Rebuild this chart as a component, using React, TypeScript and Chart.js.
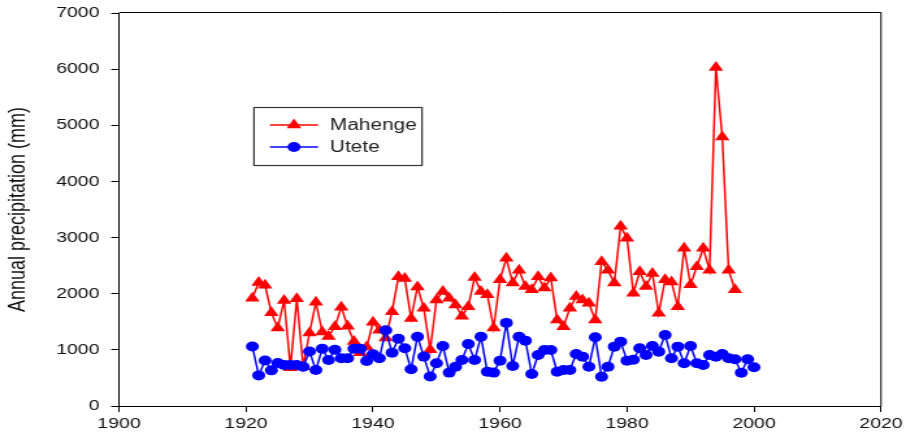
import React, { useEffect, useRef } from 'react';
import { Chart, registerables } from 'chart.js';

Chart.register(...registerables);

// The reference picture is stretched horizontally; draw on a narrower canvas and stretch it.
const OUT_W = 906;
const H = 441;
const W = 697;
const STRETCH = OUT_W / W;
const sx = (v: number) => v / STRETCH;

const mahengeStart = 1921;
const mahengeValues = [
  1920, 2200, 2150, 1660, 1390, 1880, 680, 1910, 700, 1300,
  1850, 1320, 1240, 1410, 1760, 1420, 1150, 950, 1050, 1490,
  1350, 1210, 1680, 2300, 2270, 1560, 2120, 1740, 1000, 1890,
  2040, 1920, 1800, 1600, 1770, 2290, 2040, 1980, 1390, 2250,
  2630, 2190, 2420, 2130, 2070, 2300, 2100, 2280, 1530, 1410,
  1740, 1950, 1890, 1830, 1530, 2570, 2420, 2190, 3200, 2990,
  2010, 2390, 2130, 2360, 1650, 2250, 2210, 1770, 2810, 2160,
  2480, 2810, 2420, 6030, 4790, 2420, 2070,
];

const uteteStart = 1921;
const uteteValues = [
  1060, 545, 810, 635, 765, 730, 730, 730, 700, 970,
  640, 1020, 820, 1000, 850, 850, 1020, 1020, 800, 920,
  850, 1350, 950, 1200, 1030, 655, 1235, 880, 525, 760,
  1070, 595, 700, 820, 1105, 820, 1235, 610, 595, 808,
  1480, 713, 1235, 1164, 570, 909, 998, 998, 611, 642,
  642, 927, 879, 700, 1224, 522, 700, 1057, 1146, 808,
  825, 1030, 909, 1070, 968, 1266, 850, 1057, 761, 1070,
  761, 731, 909, 879, 927, 850, 832, 594, 832, 690,
];

const xTickValues = [1900, 1920, 1940, 1960, 1980, 2000, 2020];
const yTickValues = [0, 1000, 2000, 3000, 4000, 5000, 6000, 7000];

const seriesNames = ['Mahenge', 'Utete'];
const seriesColors = ['#ff0000', '#0000ff'];

const toPoints = (start: number, values: number[]) =>
  values.map((v, i) => ({ x: start + i, y: v }));

const FONT = 'Arial, "Liberation Sans", sans-serif';

const framePlugin = {
  id: 'frame',
  afterDraw(chart: any) {
    const { ctx, chartArea } = chart;
    ctx.save();
    ctx.strokeStyle = '#000';
    ctx.lineWidth = 1;
    ctx.beginPath();
    ctx.moveTo(chartArea.left, chartArea.top - 0.5);
    ctx.lineTo(chartArea.right, chartArea.top - 0.5);
    ctx.lineTo(chartArea.right, chartArea.bottom);
    ctx.stroke();
    ctx.restore();
  },
};

const legendPlugin = {
  id: 'boxLegend',
  afterDraw(chart: any) {
    const { ctx } = chart;
    ctx.save();
    const left = sx(254);
    const right = sx(422);
    const top = 107.5;
    const bottom = 165.5;
    ctx.strokeStyle = '#333';
    ctx.lineWidth = 1.2;
    ctx.strokeRect(left, top, right - left, bottom - top);
    chart.data.datasets.forEach((ds: any, i: number) => {
      const y = 125 + i * 22;
      ctx.strokeStyle = ds.borderColor;
      ctx.lineWidth = 1.5;
      ctx.beginPath();
      ctx.moveTo(sx(270), y);
      ctx.lineTo(sx(318), y);
      ctx.stroke();
      const cx = sx(294);
      ctx.fillStyle = ds.backgroundColor;
      ctx.beginPath();
      if (ds.pointStyle === 'triangle') {
        const r = ds.pointRadius;
        ctx.moveTo(cx, y - r);
        ctx.lineTo(cx + r * 0.866, y + r * 0.5);
        ctx.lineTo(cx - r * 0.866, y + r * 0.5);
        ctx.closePath();
      } else {
        ctx.arc(cx, y, ds.pointRadius, 0, Math.PI * 2);
      }
      ctx.fill();
      ctx.fillStyle = '#222';
      ctx.font = `16px ${FONT}`;
      ctx.textBaseline = 'middle';
      ctx.textAlign = 'left';
      ctx.fillText(ds.label, sx(330), y + 1);
    });
    ctx.restore();
  },
};

export default function App() {
  const canvasRef = useRef<HTMLCanvasElement | null>(null);

  useEffect(() => {
    document.body.style.margin = '0';
    const canvas = canvasRef.current;
    if (!canvas) return;
    const chart = new Chart(canvas, {
      type: 'line',
      data: {
        datasets: [
          {
            label: seriesNames[0],
            data: toPoints(mahengeStart, mahengeValues),
            borderColor: seriesColors[0],
            backgroundColor: seriesColors[0],
            pointStyle: 'triangle',
            pointRadius: 6.5,
            pointBorderWidth: 0,
            borderWidth: 1.5,
            tension: 0,
            order: 1,
          } as any,
          {
            label: seriesNames[1],
            data: toPoints(uteteStart, uteteValues),
            borderColor: seriesColors[1],
            backgroundColor: seriesColors[1],
            pointStyle: 'circle',
            pointRadius: 5,
            pointBorderWidth: 0,
            borderWidth: 1.5,
            tension: 0,
            order: 0,
          } as any,
        ],
      },
      options: {
        animation: false,
        responsive: false,
        devicePixelRatio: 1,
        layout: { padding: { left: 0, top: 13, right: sx(25), bottom: 0 } },
        plugins: {
          legend: { display: false },
          tooltip: { enabled: false },
        },
        scales: {
          x: {
            type: 'linear',
            min: 1900,
            max: 2020,
            afterFit: (scale: any) => {
              scale.height = 35;
              scale.paddingRight = 0;
              scale.paddingLeft = 0;
            },
            afterBuildTicks: (scale: any) => {
              scale.ticks = xTickValues.map((v) => ({ value: v }));
            },
            ticks: {
              callback: (v: any) => String(v),
              color: '#111',
              font: { size: 15, family: FONT },
              padding: 3,
              maxRotation: 0,
              autoSkip: false,
            },
            grid: {
              drawOnChartArea: false,
              drawTicks: true,
              tickLength: 6,
              tickColor: '#000',
            },
            border: { color: '#000', width: 1 },
          },
          y: {
            type: 'linear',
            min: 0,
            max: 7000,
            afterFit: (scale: any) => {
              scale.width = sx(119);
              scale.paddingTop = 0;
              scale.paddingBottom = 0;
            },
            afterBuildTicks: (scale: any) => {
              scale.ticks = yTickValues.map((v) => ({ value: v }));
            },
            ticks: {
              callback: (v: any) => String(v),
              color: '#111',
              font: { size: 15, family: FONT },
              padding: 9,
              autoSkip: false,
            },
            grid: {
              drawOnChartArea: false,
              drawTicks: true,
              tickLength: 6,
              tickColor: '#000',
            },
            border: { color: '#000', width: 1 },
            title: {
              display: true,
              text: 'Annual precipitation (mm)',
              color: '#111',
              font: { size: 18, family: FONT },
              padding: { top: 3, bottom: 0 },
            },
          },
        },
      },
      plugins: [framePlugin, legendPlugin],
    });
    return () => chart.destroy();
  }, []);

  return (
    <div style={{ width: OUT_W, height: H, overflow: 'hidden', position: 'relative' }}>
      <div
        style={{
          width: W,
          height: H,
          transform: `scaleX(${STRETCH})`,
          transformOrigin: '0 0',
        }}
      >
        <canvas ref={canvasRef} width={W} height={H} style={{ display: 'block' }} />
      </div>
    </div>
  );
}
